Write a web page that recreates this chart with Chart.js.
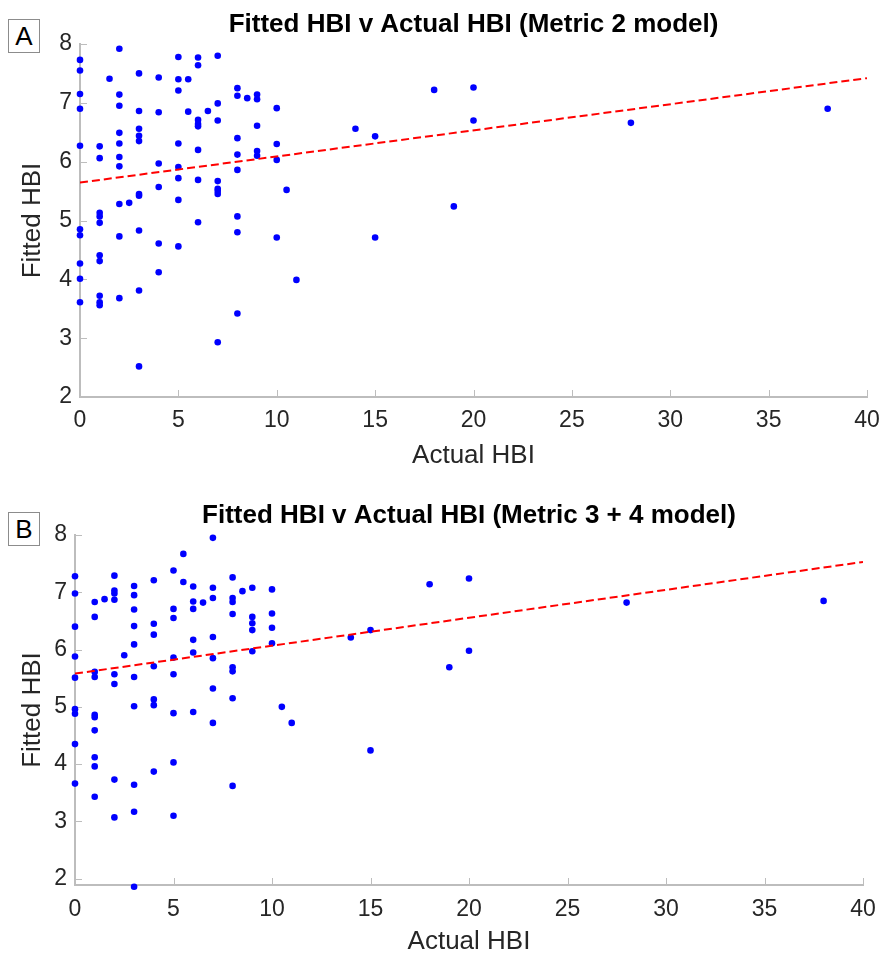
<!DOCTYPE html>
<html>
<head>
<meta charset="utf-8">
<title>Fitted HBI v Actual HBI</title>
<script src="https://cdn.jsdelivr.net/npm/chart.js@4.4.1/dist/chart.umd.min.js"></script>
<style>
  html, body { margin: 0; padding: 0; background: #fff; width: 883px; height: 955px; overflow: hidden; }
  canvas { position: absolute; left: 0; }
  #chartA { top: 0; }
  #chartB { top: 475px; }
  .tag {
    position: absolute; left: 8px; width: 30px; height: 32px;
    border: 1px solid #8c8c8c; background: #fff; color: #000;
    font: 26px 'Liberation Sans', Arial, sans-serif;
    text-align: center; line-height: 32px; z-index: 2;
  }
</style>
</head>
<body>
<div class="tag" style="top:19px">A</div>
<div class="tag" style="top:512px">B</div>
<canvas id="chartA" width="883" height="480"></canvas>
<canvas id="chartB" width="883" height="480"></canvas>

<script>
// tick labels
const xTicks = [0, 5, 10, 15, 20, 25, 30, 35, 40];
const yTicks = [2, 3, 4, 5, 6, 7, 8];

// Panel A: Metric 2 model
const actualA = [
  0, 0, 0, 0, 0, 0, 0, 0, 0, 0,
  1, 1, 1, 1, 1, 1, 1, 1, 1, 1,
  1.5,
  2, 2, 2, 2, 2, 2, 2, 2, 2, 2,
  2.5,
  3, 3, 3, 3, 3, 3, 3, 3, 3, 3,
  4, 4, 4, 4, 4, 4,
  5, 5, 5, 5, 5, 5, 5, 5,
  5.5, 5.5,
  6, 6, 6, 6, 6, 6, 6, 6,
  6.5,
  7, 7, 7, 7, 7, 7, 7, 7,
  8, 8, 8, 8, 8, 8, 8, 8,
  8.5,
  9, 9, 9, 9, 9,
  10, 10, 10, 10,
  10.5, 11, 14, 15, 15, 18, 19, 20, 20, 28, 38
];
const fittedA = [
  7.73, 7.55, 7.15, 6.90, 6.27, 4.85, 4.75, 4.27, 4.01, 3.61,
  6.26, 6.06, 5.13, 5.07, 4.96, 4.41, 4.31, 3.72, 3.61, 3.56,
  7.41,
  7.92, 7.14, 6.95, 6.49, 6.31, 6.08, 5.92, 5.28, 4.73, 3.68,
  5.30,
  7.50, 6.86, 6.56, 6.44, 6.35, 5.45, 5.42, 4.83, 3.81, 2.52,
  7.43, 6.84, 5.97, 5.57, 4.61, 4.12,
  7.78, 7.40, 7.21, 6.31, 5.91, 5.72, 5.35, 4.56,
  7.40, 6.85,
  7.77, 7.64, 6.71, 6.64, 6.60, 6.20, 5.69, 4.97,
  6.86,
  7.80, 6.99, 6.70, 5.67, 5.54, 5.50, 5.45, 2.93,
  7.25, 7.12, 6.40, 6.12, 5.86, 5.07, 4.80, 3.42,
  7.08,
  7.14, 7.06, 6.61, 6.18, 6.10,
  6.91, 6.30, 6.03, 4.71,
  5.52, 3.99, 6.56, 6.43, 4.71, 7.22, 5.24, 7.26, 6.70, 6.66, 6.90
];
const fitLineXA = [0, 40];
const fitLineYA = [5.645, 7.42];

// Panel B: Metric 3 + 4 model
const actualB = [
  0, 0, 0, 0, 0, 0, 0, 0, 0,
  1, 1, 1, 1, 1, 1, 1, 1, 1, 1,
  1.5,
  2, 2, 2, 2, 2, 2, 2, 2,
  2.5,
  3, 3, 3, 3, 3, 3, 3, 3, 3, 3,
  4, 4, 4, 4, 4, 4, 4,
  5, 5, 5, 5, 5, 5, 5, 5,
  5.5, 5.5,
  6, 6, 6, 6, 6, 6,
  6.5,
  7, 7, 7, 7, 7, 7, 7,
  8, 8, 8, 8, 8, 8, 8, 8,
  8.5,
  9, 9, 9, 9, 9,
  10, 10, 10, 10,
  10.5, 11, 14, 15, 15, 18, 19, 20, 20, 28, 38
];
const fittedB = [
  7.28, 6.98, 6.40, 5.88, 5.51, 4.96, 4.88, 4.35, 3.66,
  6.83, 6.57, 5.61, 5.52, 4.86, 4.82, 4.59, 4.12, 3.96, 3.43,
  6.88,
  7.29, 7.03, 6.98, 6.87, 5.57, 5.40, 3.73, 3.07,
  5.90,
  7.11, 6.95, 6.70, 6.41, 6.09, 5.52, 5.01, 3.64, 3.17, 1.86,
  7.21, 6.45, 6.26, 5.71, 5.13, 5.03, 3.87,
  7.38, 6.71, 6.55, 5.86, 5.57, 4.89, 4.03, 3.10,
  7.67, 7.18,
  7.10, 6.84, 6.71, 6.17, 5.95, 4.91,
  6.82,
  7.95, 7.08, 6.90, 6.22, 5.85, 5.32, 4.72,
  7.26, 6.90, 6.83, 6.62, 5.69, 5.62, 5.15, 3.62,
  7.02,
  7.08, 6.57, 6.46, 6.34, 5.97,
  7.05, 6.63, 6.38, 6.11,
  5.00, 4.72, 6.21, 6.34, 4.24, 7.14, 5.69, 7.24, 5.98, 6.82, 6.85
];
const fitLineXB = [0, 40];
const fitLineYB = [5.58, 7.53];

const FONT = "'Liberation Sans', Arial, Helvetica, sans-serif";
const AXIS_GRAY = '#bdbdbd';
const TEXT_GRAY = '#262626';

// MATLAB style inward tick marks
const innerTicks = {
  id: 'innerTicks',
  beforeDatasetsDraw(chart) {
    const ctx = chart.ctx;
    const xs = chart.scales.x, ys = chart.scales.y;
    const area = chart.chartArea;
    ctx.save();
    ctx.strokeStyle = AXIS_GRAY;
    ctx.lineWidth = 1;
    ctx.beginPath();
    xs.ticks.forEach(t => {
      const px = Math.round(xs.getPixelForValue(t.value)) + 0.5;
      ctx.moveTo(px, area.bottom);
      ctx.lineTo(px, area.bottom - 7);
    });
    ys.ticks.forEach(t => {
      const py = Math.round(ys.getPixelForValue(t.value)) + 0.5;
      ctx.moveTo(area.left, py);
      ctx.lineTo(area.left + 7, py);
    });
    ctx.stroke();
    ctx.restore();
  }
};

function makeChart(id, cfg) {
  const points = cfg.xs.map((x, i) => ({ x: x, y: cfg.ys[i] }));
  const fit = cfg.fitX.map((x, i) => ({ x: x, y: cfg.fitY[i] }));

  return new Chart(document.getElementById(id), {
    type: 'scatter',
    data: {
      datasets: [
        {
          type: 'line',
          data: fit,
          borderColor: '#ff0000',
          borderWidth: 2,
          borderDash: [8, 4],
          pointRadius: 0,
          fill: false
        },
        {
          data: points,
          pointRadius: 3.3,
          pointBackgroundColor: '#0000ff',
          pointBorderWidth: 0,
          clip: false
        }
      ]
    },
    options: {
      responsive: false,
      animation: false,
      layout: { padding: { top: 0, left: 0, right: cfg.padRight, bottom: 0 } },
      plugins: {
        legend: { display: false },
        tooltip: { enabled: false },
        title: {
          display: true,
          text: cfg.title,
          fullSize: false,
          color: '#000',
          font: { family: FONT, size: 26, weight: 'bold', lineHeight: 1.2 },
          padding: cfg.titlePad
        }
      },
      scales: {
        x: {
          type: 'linear',
          min: 0,
          max: 40,
          afterBuildTicks: s => { s.ticks = xTicks.map(v => ({ value: v })); },
          afterFit: s => {
            s.height = cfg.xHeight;
            s.paddingLeft = 0;
            s.paddingRight = 0;
          },
          grid: { display: false, drawTicks: false },
          border: { display: true, color: AXIS_GRAY, width: 2 },
          ticks: { color: TEXT_GRAY, padding: cfg.xTickPad, maxRotation: 0,
                   font: { family: FONT, size: 23 } },
          title: { display: true, text: 'Actual HBI', color: TEXT_GRAY,
                   font: { family: FONT, size: 26, lineHeight: 1 },
                   padding: { top: 0, bottom: cfg.xTitlePad } }
        },
        y: {
          type: 'linear',
          min: cfg.yMin,
          max: 8,
          afterBuildTicks: s => { s.ticks = yTicks.map(v => ({ value: v })); },
          afterFit: s => { s.width = cfg.yWidth; },
          grid: { display: false, drawTicks: false },
          border: { display: true, color: AXIS_GRAY, width: 2 },
          ticks: { color: TEXT_GRAY, padding: 8,
                   font: { family: FONT, size: 23 } },
          title: { display: true, text: 'Fitted HBI', color: TEXT_GRAY,
                   font: { family: FONT, size: 26, lineHeight: 1 },
                   padding: { top: 20, bottom: 0 } }
        }
      }
    },
    plugins: [innerTicks]
  });
}

makeChart('chartA', {
  xs: actualA, ys: fittedA, fitX: fitLineXA, fitY: fitLineYA,
  title: 'Fitted HBI v Actual HBI (Metric 2 model)',
  titlePad: { top: 8.9, bottom: 3.9 },
  padRight: 16, yWidth: 80, xHeight: 83, yMin: 2,
  xTickPad: 10, xTitlePad: 11
});

makeChart('chartB', {
  xs: actualB, ys: fittedB, fitX: fitLineXB, fitY: fitLineYB,
  title: 'Fitted HBI v Actual HBI (Metric 3 + 4 model)',
  titlePad: { top: 25.4, bottom: 3.4 },
  padRight: 20, yWidth: 75, xHeight: 70, yMin: 1.89,
  xTickPad: 11, xTitlePad: 0
});
</script>
</body>
</html>
